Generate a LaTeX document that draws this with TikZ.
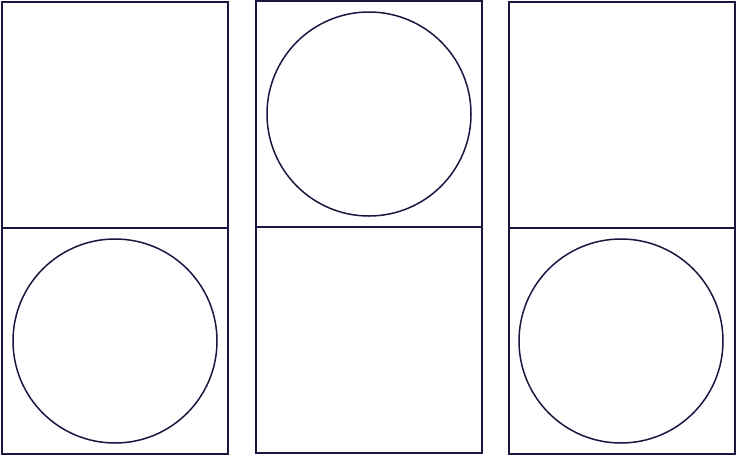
\documentclass[tikz,border=0pt]{standalone}
\usepackage{tikz}
\definecolor{ink}{HTML}{1B1640}
\begin{document}
\begin{tikzpicture}[x=1pt,y=-1pt,line width=1.5pt,draw=ink]
\useasboundingbox (0,0) rectangle (736,456);
% left column
\draw[ink] (2,2) rectangle (228,228);
\draw[ink] (2,228) rectangle (228,454);
\draw[ink] (115,341) circle (102);
% middle column
\draw[ink] (256,1) rectangle (482,227);
\draw[ink] (256,227) rectangle (482,453);
\draw[ink] (369,114) circle (102);
% right column
\draw[ink] (509,2) rectangle (735,228);
\draw[ink] (509,228) rectangle (735,454);
\draw[ink] (621,341) circle (102);
\end{tikzpicture}
\end{document}
